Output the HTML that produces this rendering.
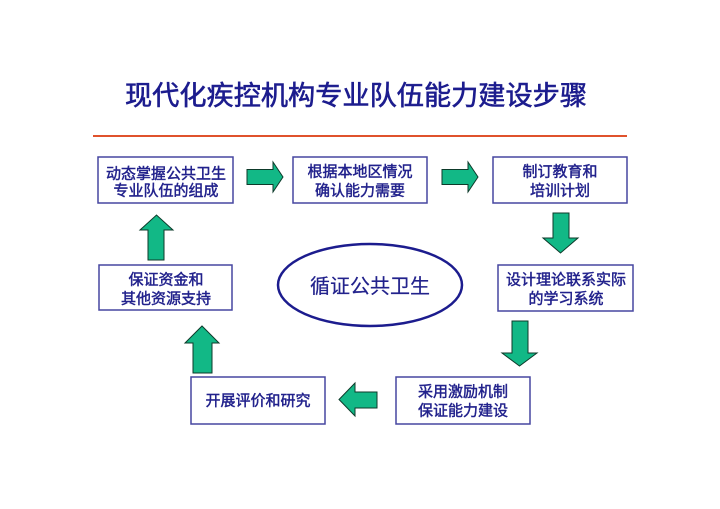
<!DOCTYPE html>
<html>
<head>
<meta charset="utf-8">
<style>
html,body{margin:0;padding:0;background:#fff;}
svg{display:block;}
text{font-family:"Liberation Sans","Noto Sans CJK SC",sans-serif;}
</style>
</head>
<body>
<svg width="720" height="509" viewBox="0 0 720 509" xmlns="http://www.w3.org/2000/svg">
<rect width="720" height="509" fill="#fff"/>
<text x="356" y="96" font-size="27" fill="#1c1c8e" stroke="#1c1c8e" stroke-width="0.6" text-anchor="middle" dominant-baseline="central" textLength="462" lengthAdjust="spacingAndGlyphs">现代化疾控机构专业队伍能力建设步骤</text>
<line x1="93" y1="136" x2="627" y2="136" stroke="#e0522c" stroke-width="2"/>

<g fill="#fff" stroke="#4646a0" stroke-width="1.5">
<rect x="98" y="157" width="135" height="46"/>
<rect x="293" y="157" width="134" height="46"/>
<rect x="493" y="157" width="134" height="46"/>
<rect x="498" y="265" width="135" height="46"/>
<rect x="396" y="377" width="134" height="47"/>
<rect x="191" y="377" width="134" height="47"/>
<rect x="99" y="265" width="133" height="45"/>
</g>

<g font-size="15" fill="#22228c" stroke="#22228c" stroke-width="0.45" text-anchor="middle" dominant-baseline="central">
<text x="166" y="174">动态掌握公共卫生</text>
<text x="166" y="191">专业队伍的组成</text>
<text x="360" y="172">根据本地区情况</text>
<text x="360" y="191">确认能力需要</text>
<text x="560" y="172">制订教育和</text>
<text x="560" y="191">培训计划</text>
<text x="566" y="280">设计理论联系实际</text>
<text x="566" y="299">的学习系统</text>
<text x="463" y="392">采用激励机制</text>
<text x="463" y="411">保证能力建设</text>
<text x="258" y="401">开展评价和研究</text>
<text x="166" y="280">保证资金和</text>
<text x="166" y="299">其他资源支持</text>
</g>

<ellipse cx="370" cy="285" rx="92" ry="41" fill="#fff" stroke="#1c1c8e" stroke-width="2.5"/>
<text x="370" y="287" font-size="20" fill="#22228c" stroke="#22228c" stroke-width="0.2" text-anchor="middle" dominant-baseline="central">循证公共卫生</text>

<g fill="#12b886" stroke="#0d3a2a" stroke-width="1">
<polygon points="247,169.5 273,169.5 273,162 283,177 273,192 273,184.5 247,184.5"/>
<polygon points="442,169.5 468,169.5 468,162 478,177 468,192 468,184.5 442,184.5"/>
<polygon points="553,213 569,213 569,238 578,238 560.5,253 543,238 553,238"/>
<polygon points="512,321 528,321 528,353 537,353 519.5,366 502,353 512,353"/>
<polygon points="377,392 355,392 355,383 339,399.5 355,416 355,408 377,408"/>
<polygon points="193,373 212,373 212,343 219,343 202,326 185,343 193,343"/>
<polygon points="148,260 164,260 164,230 173,230 156.5,215 140,230 148,230"/>
</g>
</svg>
</body>
</html>
